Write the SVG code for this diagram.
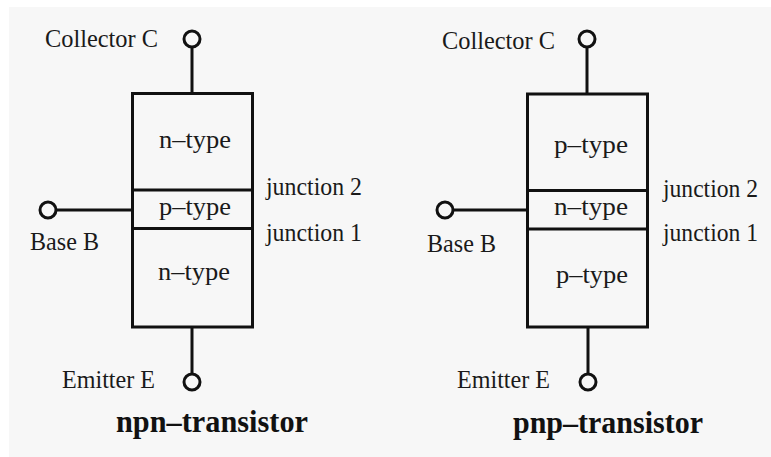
<svg xmlns="http://www.w3.org/2000/svg" width="771" height="457" viewBox="0 0 771 457">
<style>
.t{font-family:"Liberation Serif","Times New Roman",serif;font-size:26px;fill:#1a1a1a}
.b{font-family:"Liberation Serif","Times New Roman",serif;font-size:31px;font-weight:bold;fill:#111}
.s{stroke:#111;stroke-width:3;fill:none}
.c{stroke:#111;stroke-width:3;fill:#f7f7f7}
</style>
<rect width="771" height="457" fill="#ffffff"/>
<rect x="9" y="7" width="762" height="450" fill="#f7f7f7"/>
<g id="connectors">
<line class="s" x1="192" y1="47" x2="192" y2="93.5"/>
<line class="s" x1="56" y1="210" x2="132.5" y2="210"/>
<line class="s" x1="192" y1="327" x2="192" y2="374"/>
<line class="s" x1="587" y1="47" x2="587" y2="94"/>
<line class="s" x1="453" y1="210" x2="527.5" y2="210"/>
<line class="s" x1="588" y1="327" x2="588" y2="374"/>
</g>
<g id="npn">
<rect class="s" x="132.5" y="93.5" width="120" height="233.5"/>
<line class="s" x1="132.5" y1="190" x2="252.5" y2="190"/>
<line class="s" x1="132.5" y1="228.5" x2="252.5" y2="228.5"/>
<text class="t" x="159" y="148" textLength="72" lengthAdjust="spacingAndGlyphs">n–type</text>
<text class="t" x="159" y="215" textLength="72" lengthAdjust="spacingAndGlyphs">p–type</text>
<text class="t" x="158" y="280" textLength="72" lengthAdjust="spacingAndGlyphs">n–type</text>
<text class="t" x="266" y="195" textLength="96" lengthAdjust="spacingAndGlyphs">junction 2</text>
<text class="t" x="266" y="241" textLength="96" lengthAdjust="spacingAndGlyphs">junction 1</text>
</g>
<g id="npn-collector">
<circle class="c" cx="192" cy="39" r="8"/>
<text class="t" x="45" y="47" textLength="113" lengthAdjust="spacingAndGlyphs">Collector C</text>
</g>
<g id="npn-base">
<circle class="c" cx="48" cy="210" r="8"/>
<text class="t" x="30" y="250" textLength="69" lengthAdjust="spacingAndGlyphs">Base B</text>
</g>
<g id="npn-emitter">
<circle class="c" cx="192" cy="382" r="8"/>
<text class="t" x="62" y="388" textLength="93" lengthAdjust="spacingAndGlyphs">Emitter E</text>
</g>
<g id="npn-title">
<text class="b" x="116" y="432" textLength="192" lengthAdjust="spacingAndGlyphs">npn–transistor</text>
</g>
<g id="pnp">
<rect class="s" x="527.5" y="94" width="120" height="233"/>
<line class="s" x1="527.5" y1="190.5" x2="647.5" y2="190.5"/>
<line class="s" x1="527.5" y1="229" x2="647.5" y2="229"/>
<text class="t" x="554" y="153" textLength="74" lengthAdjust="spacingAndGlyphs">p–type</text>
<text class="t" x="554" y="215" textLength="74" lengthAdjust="spacingAndGlyphs">n–type</text>
<text class="t" x="556" y="283" textLength="72" lengthAdjust="spacingAndGlyphs">p–type</text>
<text class="t" x="663" y="197" textLength="95" lengthAdjust="spacingAndGlyphs">junction 2</text>
<text class="t" x="663" y="241" textLength="95" lengthAdjust="spacingAndGlyphs">junction 1</text>
</g>
<g id="pnp-collector">
<circle class="c" cx="587" cy="39" r="8"/>
<text class="t" x="442" y="49" textLength="113" lengthAdjust="spacingAndGlyphs">Collector C</text>
</g>
<g id="pnp-base">
<circle class="c" cx="445" cy="210" r="8"/>
<text class="t" x="427" y="252" textLength="69" lengthAdjust="spacingAndGlyphs">Base B</text>
</g>
<g id="pnp-emitter">
<circle class="c" cx="588" cy="382" r="8"/>
<text class="t" x="457" y="388" textLength="93" lengthAdjust="spacingAndGlyphs">Emitter E</text>
</g>
<g id="pnp-title">
<text class="b" x="513" y="433" textLength="190" lengthAdjust="spacingAndGlyphs">pnp–transistor</text>
</g>
</svg>
